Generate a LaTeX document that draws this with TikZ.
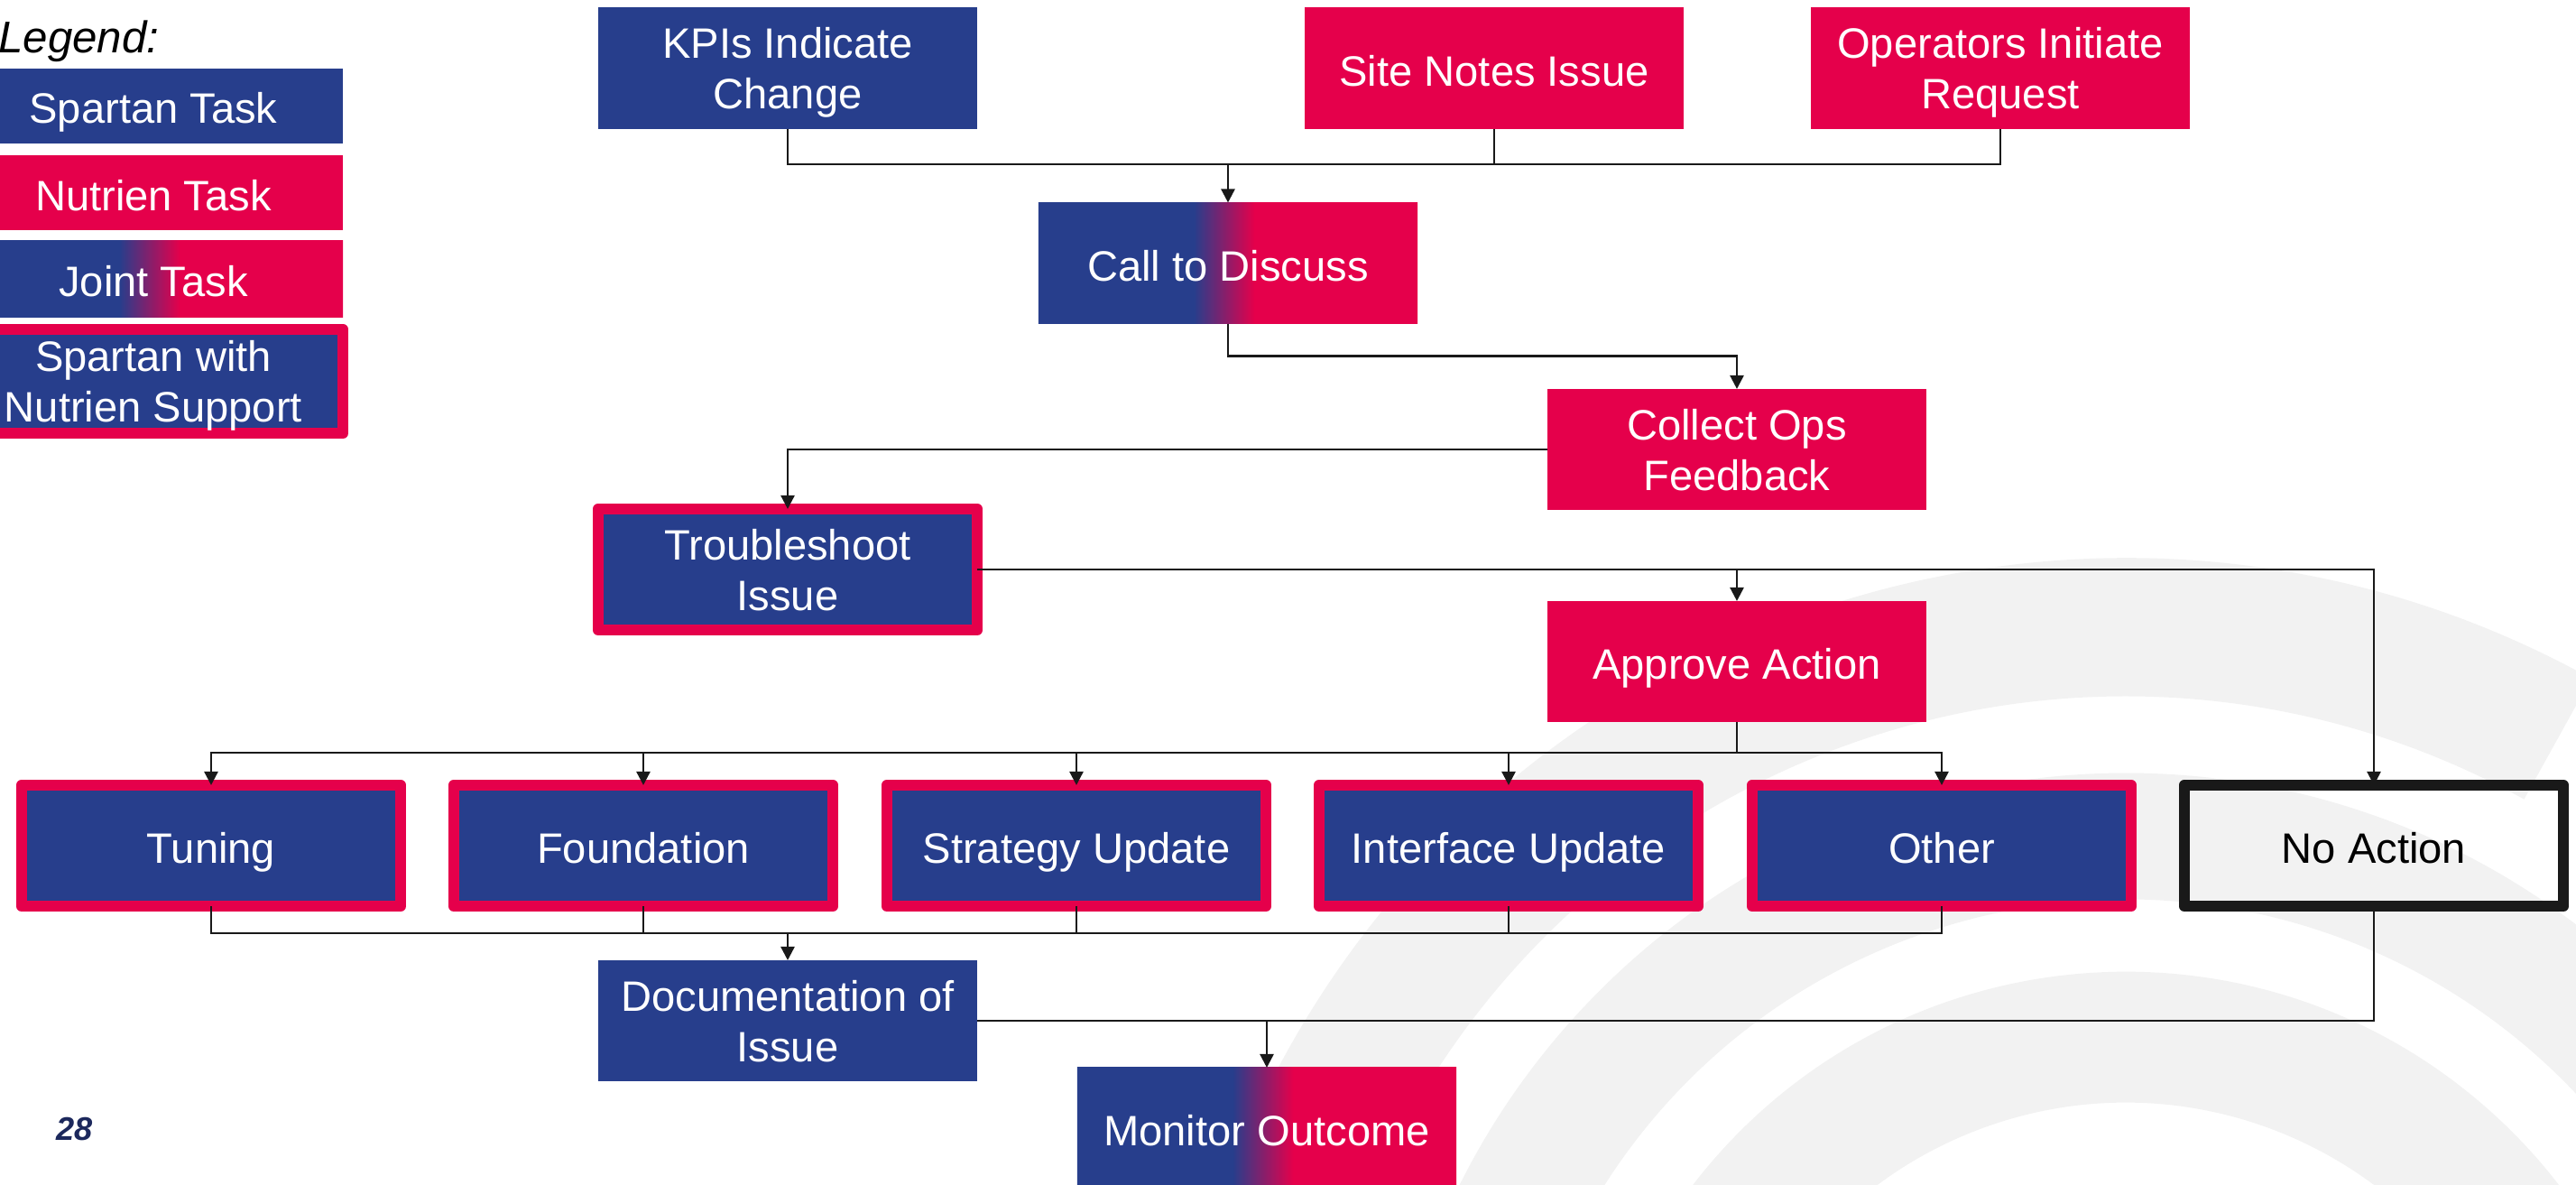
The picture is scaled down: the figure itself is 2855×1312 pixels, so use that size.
\documentclass[tikz,border=0pt]{standalone}
\usepackage{fontspec}
\setmainfont{Liberation Sans}
\usepackage{tikz}
\usetikzlibrary{arrows.meta}
\definecolor{SpartanBlue}{RGB}{39,62,140}
\definecolor{NutrienRed}{RGB}{229,0,75}
\definecolor{LogoGrey}{RGB}{242,242,242}
\definecolor{PageNavy}{RGB}{28,40,92}
\pgfdeclarehorizontalshading{jointshade}{100bp}{color(0bp)=(SpartanBlue); color(45.5bp)=(SpartanBlue); color(53.5bp)=(NutrienRed); color(100bp)=(NutrienRed)}
\newcommand{\tstrut}{\rule[-2.6pt]{0pt}{16.4pt}}
\newcommand{\pstrut}{\rule[-2.6pt]{0pt}{31.2pt}}

\begin{document}
\begin{tikzpicture}[x=0.01cm,y=-0.01cm,
  task/.style={rectangle,minimum width=4.2cm,minimum height=1.34cm,inner sep=0pt,outer sep=0pt,align=center,text=white,font=\fontsize{13.4pt}{16pt}\selectfont,execute at begin node=\tstrut,execute at end node=\tstrut},
  pair/.style={execute at begin node=\pstrut},
  spar/.style={task,fill=SpartanBlue},
  nutr/.style={task,fill=NutrienRed},
  joint/.style={task,shade,shading=jointshade},
  supp/.style={task,fill=SpartanBlue,draw=NutrienRed,line width=0.12cm,line join=round},
  none/.style={task,draw=black!90,line width=0.12cm,line join=round,text=black},
  link/.style={draw=black!90,line width=0.7pt},
  arr/.style={link,-{Triangle[length=0.15cm,width=0.15cm]}}]
    \useasboundingbox (0,0) rectangle (2855,1312);
    % watermark
    \begin{scope}
       \clip (0,0) rectangle (2855,1312);
       \begin{scope}[shift={(2356,1682)},x=1cm,y=1cm]
       \foreach \ro/\ri/\a/\b in %
       {10.63/9.10/61/200,8.25/6.85/-40/200,6.05/4.60/-40/200} {
          \fill[LogoGrey] (\a:\ro cm) arc[start angle=\a,end angle=\b,radius=\ro cm]
             -- (\b:\ri cm) arc[start angle=\b,end angle=\a,radius=\ri cm] -- cycle;
       }
       \end{scope}
    \end{scope}
    % legend
    \node[anchor=base west,font=\itshape\fontsize{14pt}{16pt}\selectfont] (legtitle) at (-14,58) {Legend:};
    \node[spar,minimum height=0.83cm] (legspar) at (170,117.5) {Spartan Task};
    \node[nutr,minimum height=0.83cm] (legnutr) at (170,213.5) {Nutrien Task};
    \node[joint,minimum height=0.84cm] (legjoint) at (170,309) {Joint Task};
    \node[supp,pair,minimum height=1.15cm] (legsupp) at (170,422.5) {Spartan with\\Nutrien Support};
    \node[anchor=base west,font=\bfseries\itshape\fontsize{10.3pt}{12pt}\selectfont,text=PageNavy] (pagenum) at (50,1263) {28};
    % tasks
    \node[spar,pair] (kpi) at (873,75.5) {KPIs Indicate\\Change};
    \node[nutr] (site) at (1656,75.5) {Site Notes Issue};
    \node[nutr,pair] (oper) at (2217,75.5) {Operators Initiate\\Request};
    \node[joint] (call) at (1361,291.5) {Call to Discuss};
    \node[nutr,pair] (collect) at (1925,498) {Collect Ops\\Feedback};
    \node[supp,pair] (trouble) at (873,631) {Troubleshoot\\Issue};
    \node[nutr] (approve) at (1925,733) {Approve Action};
    \foreach \n/\x/\t in %
    {tuning/234/Tuning,foundation/713/Foundation,strategy/1193/Strategy Update,interface/1672/Interface Update,other/2152/Other} {
       \node[supp] (\n) at (\x,937) {\t};
    }
    \node[none] (noaction) at (2631,937) {No Action};
    \node[spar,pair] (doc) at (873,1131) {Documentation of\\Issue};
    \node[joint] (monitor) at (1404,1250) {Monitor Outcome};
    % connectors
    \coordinate (topjoin) at (1361,182);
    \draw[link] (kpi.south) |- (oper.south |- topjoin) -- (oper.south);
    \draw[link] (site.south) -- (site.south |- topjoin);
    \draw[arr] (topjoin) -- (call.north);
    \draw[arr] (call.south) -- ++(0,36) -| (collect.north);
    \draw[arr] (collect.west) -| (trouble.north);
    \draw[arr] (trouble.east) -| (noaction.north);
    \draw[arr] (approve.north |- trouble.east) -- (approve.north);
    \draw[link] (approve.south) -- ++(0,34) coordinate (fork);
    \foreach \n in {tuning,foundation,strategy,interface,other} {
       \draw[arr] (fork) -| (\n.north);
    }
    \coordinate (merge) at (873,1034);
    \foreach \n in {tuning,foundation,strategy,interface,other} {
       \draw[link] (\n.south) |- (merge);
    }
    \draw[arr] (merge) -- (doc.north);
    \draw[link] (doc.east) -| (noaction.south);
    \draw[arr] (monitor.north |- doc.east) -- (monitor.north);
\end{tikzpicture}
\end{document}
